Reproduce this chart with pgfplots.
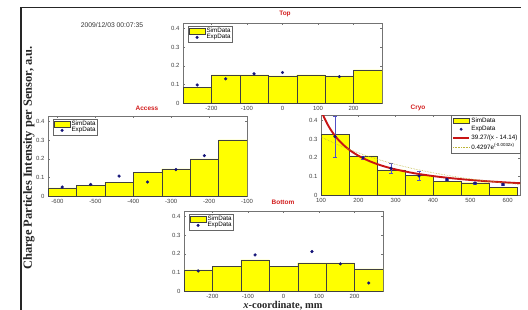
\documentclass[border=0pt]{standalone}
\usepackage{pgfplots}
\pgfplotsset{compat=1.18}
\usepackage{fontspec}
\setmainfont{Liberation Serif}
\newfontfamily\sans{Liberation Sans}
\definecolor{dotblue}{RGB}{20,20,120}
\definecolor{errblue}{RGB}{80,80,200}
\definecolor{barY}{RGB}{255,255,0}
\definecolor{fitred}{RGB}{200,20,20}
\definecolor{titred}{RGB}{210,30,30}
\pgfplotsset{
  mlab/.style={
    scale only axis, width=199bp, height=80bp,
    ymin=0, ymax=0.43, ytick={0,0.1,0.2,0.3,0.4},
    tick align=inside, major tick length=2bp,
    axis line style={black!55}, every tick/.style={black!55},
    ticklabel style={font=\sans\fontsize{6}{7}\selectfont, text=black!75},
    /pgf/number format/assume math mode=true,
    yticklabel style={/pgf/number format/fixed, /pgf/number format/precision=1},
    xticklabel style={/pgf/number format/fixed},
    scaled ticks=false,
    legend style={font=\sans\fontsize{6.3}{6.5}\selectfont, draw=black!60, fill=white,
      inner sep=0.6bp, row sep=-2.2bp, nodes={inner sep=1.2bp}},
    legend cell align=left,
    legend image post style={scale=0.95},
  },
  simbar/.style={ybar interval, fill=barY, draw=black!75, line width=0.4bp, area legend},
  expdot/.style={only marks, mark=*, mark size=1.4bp, dotblue},
}
\begin{document}
\begin{tikzpicture}
\useasboundingbox (0,0) rectangle (528bp,-310bp);
\draw[line width=1.2bp, black!85] (21bp,-310bp) -- (21bp,-7.3bp) -- (521bp,-7.3bp);
\node[font=\sans\fontsize{6.8}{8}\selectfont, text=black!80] at (112bp,-25bp) {2009/12/03 00:07:35};
\node[rotate=90, font=\bfseries\fontsize{12.5}{14}\selectfont, text=black!85] at (29bp,-158bp) {Charge Particles Intensity per Sensor, a.u.};
\node[font=\bfseries\fontsize{10.5}{12}\selectfont, text=black!85, inner sep=0bp] at (283bp,-305.5bp) {\textit{x}-coordinate, mm};
\node[font=\sans\bfseries\fontsize{6.5}{7}\selectfont, text=titred] at (285bp,-14bp) {Top};
\node[font=\sans\bfseries\fontsize{6.5}{7}\selectfont, text=titred] at (147bp,-108bp) {Access};
\node[font=\sans\bfseries\fontsize{6.5}{7}\selectfont, text=titred] at (418bp,-108bp) {Cryo};
\node[font=\sans\bfseries\fontsize{6.5}{7}\selectfont, text=titred] at (283bp,-202bp) {Bottom};

% Top
\begin{axis}[mlab, at={(183bp,-103bp)}, anchor=south west,
  xmin=-280, xmax=280, xtick={-200,-100,0,100,200},
  legend style={at={(0.025,0.96)}, anchor=north west}]
\addplot[simbar] coordinates {(-280,0.085) (-200,0.151) (-120,0.151) (-40,0.146) (40,0.151) (120,0.146) (200,0.178) (280,0.178)};
\addplot[expdot] coordinates {(-240,0.097) (-160,0.13) (-80,0.157) (0,0.164) (160,0.142)};
\legend{SimData,ExpData}
\end{axis}

% Access
\begin{axis}[mlab, at={(48bp,-196bp)}, anchor=south west,
  xmin=-625, xmax=-100, xtick={-600,-500,-400,-300,-200,-100},
  legend style={at={(0.025,0.96)}, anchor=north west}]
\addplot[simbar] coordinates {(-625,0.044) (-550,0.057) (-475,0.075) (-400,0.128) (-325,0.146) (-250,0.2) (-175,0.302) (-100,0.302)};
\addplot[expdot] coordinates {(-587.5,0.048) (-512.5,0.062) (-437.5,0.107) (-362.5,0.075) (-287.5,0.142) (-212.5,0.217)};
\legend{SimData,ExpData}
\end{axis}

% Cryo
\begin{axis}[mlab, at={(321bp,-195bp)}, anchor=south west,
  xmin=100, xmax=633, xtick={100,200,300,400,500,600},
  legend style={at={(1,1)}, anchor=north east, row sep=0.3bp, inner sep=1.2bp}, clip=true]
\addplot[simbar] coordinates {(100,0.325) (175,0.21) (250,0.135) (325,0.107) (400,0.073) (475,0.066) (550,0.042) (625,0.042)};
\addplot[expdot, error bars/.cd, y dir=both, y explicit,
  error bar style={errblue, line width=0.7bp}, error mark options={errblue, line width=0.7bp, mark size=1.6bp, rotate=90}]
  coordinates {(137.5,0.314) +- (0,0.11) (212.5,0.2) +- (0,0.008) (287.5,0.143) +- (0,0.027) (362.5,0.102) +- (0,0.025) (437.5,0.084) +- (0,0.007) (512.5,0.064) +- (0,0.006) (587.5,0.057) +- (0,0.005)};
\addplot[fitred, line width=1.9bp, smooth] coordinates {(105,0.4322) (110,0.4097) (120,0.3710) (130,0.3389) (140,0.3120) (150,0.2890) (165,0.2603) (180,0.2368) (200,0.2113) (225,0.1862) (250,0.1665) (275,0.1505) (300,0.1374) (350,0.1169) (400,0.1018) (450,0.0901) (500,0.0808) (550,0.0733) (600,0.0670) (635,0.0633)};
\addplot[yellow!70!black, line width=0.6bp, densely dotted, smooth] coordinates {(100,0.3120) (150,0.2659) (200,0.2266) (250,0.1931) (300,0.1645) (350,0.1402) (400,0.1195) (450,0.1018) (500,0.0867) (550,0.0739) (600,0.0630) (635,0.0563)};
\legend{SimData,ExpData,{39.27/(x - 14.14)},{0.4297e\textsuperscript{(-0.0032x)}}}
\end{axis}

% Bottom
\begin{axis}[mlab, at={(184bp,-291bp)}, anchor=south west,
  xmin=-280, xmax=280, xtick={-200,-100,0,100,200},
  legend style={at={(0.025,0.96)}, anchor=north west}]
\addplot[simbar] coordinates {(-280,0.114) (-200,0.133) (-120,0.167) (-40,0.133) (40,0.151) (120,0.151) (200,0.119) (280,0.119)};
\addplot[expdot] coordinates {(-240,0.108) (-80,0.194) (80,0.212) (160,0.146) (240,0.043)};
\legend{SimData,ExpData}
\end{axis}
\end{tikzpicture}
\end{document}
